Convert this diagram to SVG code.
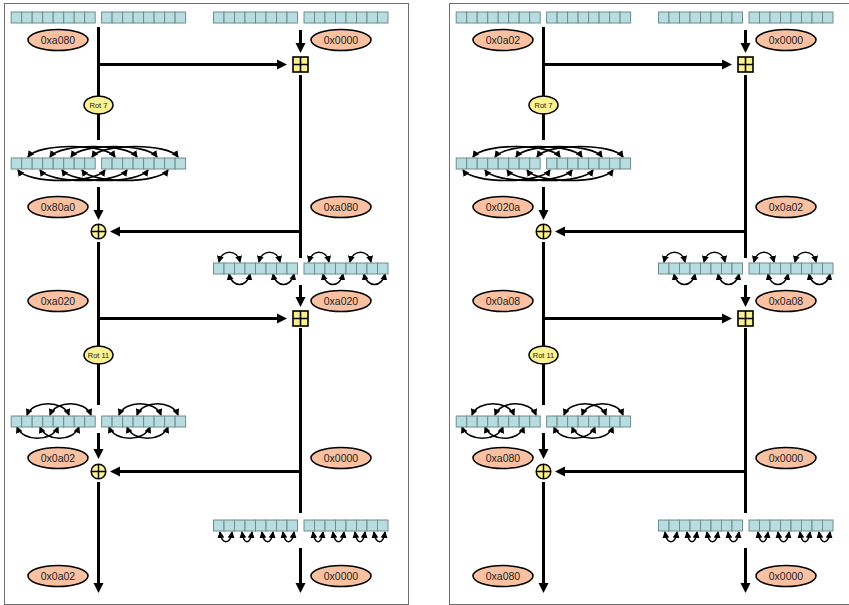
<svg xmlns="http://www.w3.org/2000/svg" width="849" height="605" viewBox="0 0 849 605">
<style>
.panel{fill:#fff;stroke:#6e6e6e;stroke-width:1}
.cell{fill:#b7dde0;stroke:#6f8c8e;stroke-width:1}
.val{fill:#f9c1a2;stroke:#000;stroke-width:1.5}
.op{fill:#faf292;stroke:#000;stroke-width:1.5}
.w{fill:none;stroke:#000;stroke-width:3;marker-end:url(#big)}
.n{fill:none;stroke:#000;stroke-width:3}
.a{fill:none;stroke:#000;stroke-width:1.6;marker-start:url(#small);marker-end:url(#small)}
text{font-family:"Liberation Sans",Arial,sans-serif;text-anchor:middle;fill:#222}
.t{font-size:10.500px}
.r{font-size:7.500px}
</style>
<defs>
<marker id="big" markerUnits="userSpaceOnUse" markerWidth="12" markerHeight="12" refX="2" refY="6" orient="auto"><path d="M0 1 L10 6 L0 11 Z" fill="#000"/></marker>
<marker id="small" markerUnits="userSpaceOnUse" markerWidth="8" markerHeight="8" refX="6" refY="4" orient="auto-start-reverse"><path d="M0 0.500 L7 4 L0 7.500 Z" fill="#000"/></marker>
<g id="row">
<rect class="cell" x="0" y="0" width="10.5" height="11"/><rect class="cell" x="10.5" y="0" width="10.5" height="11"/><rect class="cell" x="21" y="0" width="10.5" height="11"/><rect class="cell" x="31.5" y="0" width="10.5" height="11"/><rect class="cell" x="42" y="0" width="10.5" height="11"/><rect class="cell" x="52.5" y="0" width="10.5" height="11"/><rect class="cell" x="63" y="0" width="10.5" height="11"/><rect class="cell" x="73.5" y="0" width="10.5" height="11"/>
</g>
<g id="rows"><use href="#row" x="11.200"/><use href="#row" x="101.600"/></g>
<g id="rowsR"><use href="#row" x="213.500"/><use href="#row" x="304"/></g>
<g id="plus"><rect x="-7.5" y="-7.5" width="15" height="15" fill="#faf292" stroke="#000" stroke-width="1.6"/><path d="M0 -7.5V7.5M-7.5 0H7.5" stroke="#000" stroke-width="1.6"/></g>
<g id="xor"><circle r="7.3" class="op"/><path d="M0 -7.3V7.3M-7.3 0H7.3" stroke="#000" stroke-width="1.4"/></g>
<g id="arcs7" class="a">
<path d="M28 157 C38 143 105 143 115 157"/><path d="M50 157 C60 143 127 143 137 157"/><path d="M71 157 C81 143 147 143 157 157"/><path d="M92 157 C102 143 168 143 178 157"/>
<path d="M18 170 C28 184 95 184 105 170"/><path d="M40 170 C50 184 117 184 127 170"/><path d="M62 170 C72 184 138 184 148 170"/><path d="M82 170 C92 184 158 184 168 170"/>
</g>
<g id="arcs11" class="a">
<path d="M27 415 C33 400 63 400 69 415"/><path d="M50 415 C56 400 85 400 91 415"/><path d="M119 415 C125 400 155 400 161 415"/><path d="M137 415 C143 400 172 400 178 415"/>
<path d="M17 427 C23 442 52 442 58 427"/><path d="M40 427 C46 442 73 442 79 427"/><path d="M109 427 C115 442 144 442 150 427"/><path d="M127 427 C133 442 162 442 168 427"/>
</g>
<g id="arcs12" class="a">
<path d="M219 262 C222 249 237 249 240 262"/><path d="M259 262 C262 249 277 249 280 262"/><path d="M309 262 C312 249 326 249 329 262"/><path d="M350 262 C353 249 368 249 371 262"/>
<path d="M229 274 C232 288 247 288 250 274"/><path d="M273 274 C276 288 291 288 294 274"/><path d="M323 274 C326 288 340 288 343 274"/><path d="M364 274 C367 288 382 288 385 274"/>
</g>
<g id="arcs4" class="a">
<path d="M220 532 C222 545 230 545 232 532"/><path d="M242 532 C244 545 250 545 252 532"/><path d="M262 532 C264 545 271 545 273 532"/><path d="M283 532 C285 545 292 545 294 532"/><path d="M313 532 C315 545 321 545 323 532"/><path d="M333 532 C335 545 342 545 344 532"/><path d="M355 532 C357 545 363 545 365 532"/><path d="M374 532 C376 545 383 545 385 532"/>
</g>
<g id="wires">
<path class="n" d="M98.500 27V140"/><path class="w" d="M98.500 64.500H279"/><path class="w" d="M300.500 30V45"/>
<path class="n" d="M300.500 75V258"/><path class="w" d="M300.500 231.500H118"/><path class="w" d="M98.500 187V212"/>
<path class="n" d="M98.500 242V405"/><path class="w" d="M98.500 318.500H279"/><path class="w" d="M300.500 285V299"/>
<path class="n" d="M300.500 328V513"/><path class="w" d="M300.500 471.500H118"/><path class="w" d="M98.500 433V451"/>
<path class="w" d="M98.500 482V585"/><path class="w" d="M300.500 548V585"/>
</g>
</defs>
<rect class="panel" x="4.500" y="3.500" width="404" height="601"/>
<rect class="panel" x="449.500" y="3.500" width="404" height="601"/>

<g id="connectors">
<use href="#wires"/><use href="#arcs7"/><use href="#arcs11"/><use href="#arcs12"/><use href="#arcs4"/>
<g transform="translate(445 0)"><use href="#wires"/><use href="#arcs7"/><use href="#arcs11"/><use href="#arcs12"/><use href="#arcs4"/></g>
</g>

<g id="left-panel">
<g id="l-in-hi"><use href="#rows" y="12"/></g>
<g id="l-in-lo"><use href="#rowsR" y="12"/></g>
<g id="l-v1"><ellipse class="val" cx="58" cy="40" rx="30" ry="10.500"/><text class="t" x="58" y="44">0xa080</text></g>
<g id="l-v2"><ellipse class="val" cx="341" cy="40" rx="30" ry="10.500"/><text class="t" x="341" y="44">0x0000</text></g>
<g id="l-add1"><use href="#plus" x="300.500" y="64.500"/></g>
<g id="l-rot7"><ellipse class="op" cx="98.500" cy="105" rx="14.500" ry="9"/><text class="r" x="98.500" y="108">Rot 7</text></g>
<g id="l-row7"><use href="#rows" y="158"/></g>
<g id="l-v3"><ellipse class="val" cx="58" cy="207" rx="30" ry="10.500"/><text class="t" x="58" y="211">0x80a0</text></g>
<g id="l-v4"><ellipse class="val" cx="341" cy="207" rx="30" ry="10.500"/><text class="t" x="341" y="211">0xa080</text></g>
<g id="l-xor1"><use href="#xor" x="98.500" y="231.500"/></g>
<g id="l-row12"><use href="#rowsR" y="263"/></g>
<g id="l-v5"><ellipse class="val" cx="58" cy="301" rx="30" ry="10.500"/><text class="t" x="58" y="305">0xa020</text></g>
<g id="l-v6"><ellipse class="val" cx="341" cy="301" rx="30" ry="10.500"/><text class="t" x="341" y="305">0xa020</text></g>
<g id="l-add2"><use href="#plus" x="300.500" y="318.500"/></g>
<g id="l-rot11"><ellipse class="op" cx="98.500" cy="355" rx="14.500" ry="9"/><text class="r" x="98.500" y="358">Rot 11</text></g>
<g id="l-row11"><use href="#rows" y="416"/></g>
<g id="l-v7"><ellipse class="val" cx="58" cy="458" rx="30" ry="10.500"/><text class="t" x="58" y="462">0x0a02</text></g>
<g id="l-v8"><ellipse class="val" cx="341" cy="458" rx="30" ry="10.500"/><text class="t" x="341" y="462">0x0000</text></g>
<g id="l-xor2"><use href="#xor" x="98.500" y="471.500"/></g>
<g id="l-row4"><use href="#rowsR" y="520"/></g>
<g id="l-v9"><ellipse class="val" cx="58" cy="576" rx="30" ry="10.500"/><text class="t" x="58" y="580">0x0a02</text></g>
<g id="l-v10"><ellipse class="val" cx="341" cy="576" rx="30" ry="10.500"/><text class="t" x="341" y="580">0x0000</text></g>
</g>

<g id="right-panel" transform="translate(445 0)">
<g id="r-in-hi"><use href="#rows" y="12"/></g>
<g id="r-in-lo"><use href="#rowsR" y="12"/></g>
<g id="r-v1"><ellipse class="val" cx="58" cy="40" rx="30" ry="10.500"/><text class="t" x="58" y="44">0x0a02</text></g>
<g id="r-v2"><ellipse class="val" cx="341" cy="40" rx="30" ry="10.500"/><text class="t" x="341" y="44">0x0000</text></g>
<g id="r-add1"><use href="#plus" x="300.500" y="64.500"/></g>
<g id="r-rot7"><ellipse class="op" cx="98.500" cy="105" rx="14.500" ry="9"/><text class="r" x="98.500" y="108">Rot 7</text></g>
<g id="r-row7"><use href="#rows" y="158"/></g>
<g id="r-v3"><ellipse class="val" cx="58" cy="207" rx="30" ry="10.500"/><text class="t" x="58" y="211">0x020a</text></g>
<g id="r-v4"><ellipse class="val" cx="341" cy="207" rx="30" ry="10.500"/><text class="t" x="341" y="211">0x0a02</text></g>
<g id="r-xor1"><use href="#xor" x="98.500" y="231.500"/></g>
<g id="r-row12"><use href="#rowsR" y="263"/></g>
<g id="r-v5"><ellipse class="val" cx="58" cy="301" rx="30" ry="10.500"/><text class="t" x="58" y="305">0x0a08</text></g>
<g id="r-v6"><ellipse class="val" cx="341" cy="301" rx="30" ry="10.500"/><text class="t" x="341" y="305">0x0a08</text></g>
<g id="r-add2"><use href="#plus" x="300.500" y="318.500"/></g>
<g id="r-rot11"><ellipse class="op" cx="98.500" cy="355" rx="14.500" ry="9"/><text class="r" x="98.500" y="358">Rot 11</text></g>
<g id="r-row11"><use href="#rows" y="416"/></g>
<g id="r-v7"><ellipse class="val" cx="58" cy="458" rx="30" ry="10.500"/><text class="t" x="58" y="462">0xa080</text></g>
<g id="r-v8"><ellipse class="val" cx="341" cy="458" rx="30" ry="10.500"/><text class="t" x="341" y="462">0x0000</text></g>
<g id="r-xor2"><use href="#xor" x="98.500" y="471.500"/></g>
<g id="r-row4"><use href="#rowsR" y="520"/></g>
<g id="r-v9"><ellipse class="val" cx="58" cy="576" rx="30" ry="10.500"/><text class="t" x="58" y="580">0xa080</text></g>
<g id="r-v10"><ellipse class="val" cx="341" cy="576" rx="30" ry="10.500"/><text class="t" x="341" y="580">0x0000</text></g>
</g>
</svg>
